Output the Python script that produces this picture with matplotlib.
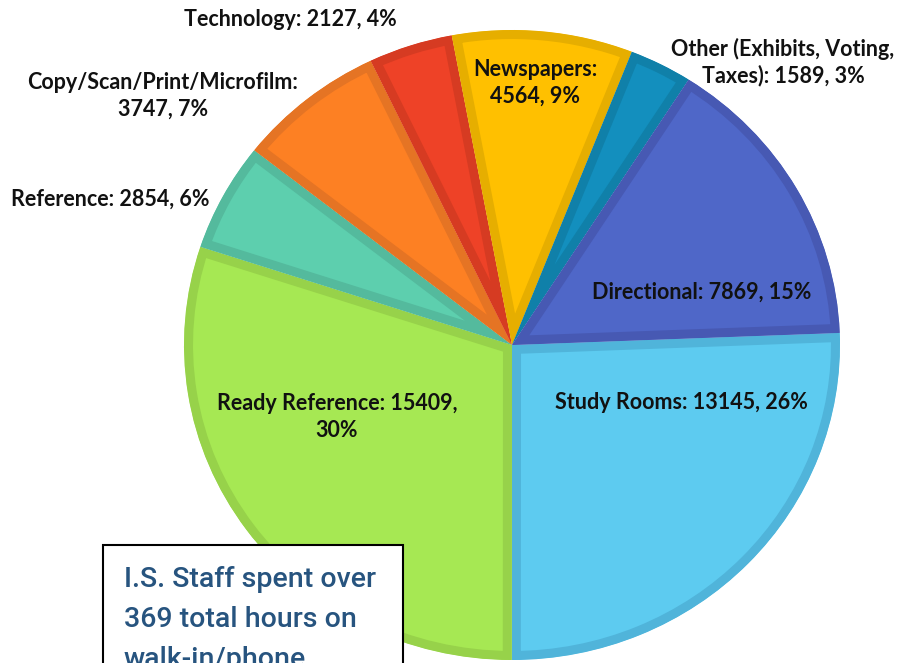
import matplotlib

matplotlib.use("Agg")

import matplotlib.pyplot as plt
from matplotlib.patches import Rectangle


FIG_W, FIG_H = 902, 663

# Walk-in / phone question counts, clockwise from 3 o'clock
CATEGORIES = [
    "Study Rooms",
    "Ready Reference",
    "Reference",
    "Copy/Scan/Print/Microfilm",
    "Technology",
    "Newspapers",
    "Other (Exhibits, Voting,\nTaxes)",
    "Directional",
]
COUNTS = [13145, 15409, 2854, 3747, 2127, 4564, 1589, 7869]

FILL_COLORS = ["#5DCBF0", "#A6E853", "#5DCFAE", "#FD8023", "#EE4227", "#FFC000", "#138FBE", "#4F67C8"]
EDGE_COLORS = ["#50B4DA", "#97D24A", "#54BA9D", "#E57424", "#D63B22", "#E6AE00", "#1080A9", "#4759B3"]

# where each label wraps: "" none, "name" after the colon, "pct" before the percentage
LABEL_BREAKS = ["", "pct", "", "name", "", "name", "", ""]
# label centres in pixels (x, y from top)
LABEL_POS = [
    (681, 403),
    (337, 417),
    (110, 199),
    (163, 96),
    (290, 20),
    (535, 83),
    (783, 62),
    (702, 292),
]

INSET_LINES = ["I.S. Staff spent over", "369 total hours on", "walk-in/phone"]

# pie centre and radii in pixels (the chart is slightly squashed vertically)
CX, CY, RX, RY = 512, 345, 328, 315


def fig_xy(px, py):
    return px / FIG_W, 1 - py / FIG_H


def label_text(name, value, total, wrap):
    pct = round(100 * value / total)
    if wrap == "name":
        return f"{name}:\n{value}, {pct}%"
    if wrap == "pct":
        return f"{name}: {value},\n{pct}%"
    return f"{name}: {value}, {pct}%"


def main():
    fig = plt.figure(figsize=(FIG_W / 100, FIG_H / 100), dpi=100)
    ax = fig.add_axes([0, 0, 1, 1])

    wedges, _ = ax.pie(
        COUNTS,
        colors=FILL_COLORS,
        startangle=2.2,
        counterclock=False,
        radius=1,
        wedgeprops=dict(linewidth=13, joinstyle="round"),
    )
    # keep only the inner half of each border so neighbours don't cover each other
    for wedge, edge in zip(wedges, EDGE_COLORS):
        wedge.set_edgecolor(edge)
        wedge.set_clip_on(True)
        wedge.set_clip_path(wedge)

    ax.set_aspect("auto")
    ax.set_xlim(-CX / RX, (FIG_W - CX) / RX)
    ax.set_ylim((CY - FIG_H) / RY, CY / RY)
    ax.axis("off")

    total = sum(COUNTS)
    for name, value, wrap, (px, py) in zip(CATEGORIES, COUNTS, LABEL_BREAKS, LABEL_POS):
        x, y = fig_xy(px, py)
        fig.text(
            x,
            y,
            label_text(name, value, total, wrap),
            ha="center",
            va="center",
            fontsize=15.5,
            fontweight="bold",
            family=["Lato", "DejaVu Sans"],
            color="#111111",
            linespacing=1.3,
        )

    # callout box in the lower left, running off the bottom edge
    bx, by = fig_xy(103, 545)
    box = Rectangle(
        (bx, -0.05),
        (403 - 103) / FIG_W,
        by + 0.05,
        transform=fig.transFigure,
        facecolor="white",
        edgecolor="black",
        linewidth=1.5,
        zorder=2,
    )
    fig.add_artist(box)

    for i, line in enumerate(INSET_LINES):
        x, y = fig_xy(124, 587 + 40 * i)
        fig.text(
            x,
            y,
            line,
            ha="left",
            va="baseline",
            fontsize=20.5,
            fontweight="medium",
            family=["Roboto", "Liberation Sans"],
            color="#27547F",
            zorder=3,
        )

    fig.savefig("out.png", dpi=100)
    plt.close(fig)


if __name__ == "__main__":
    main()
